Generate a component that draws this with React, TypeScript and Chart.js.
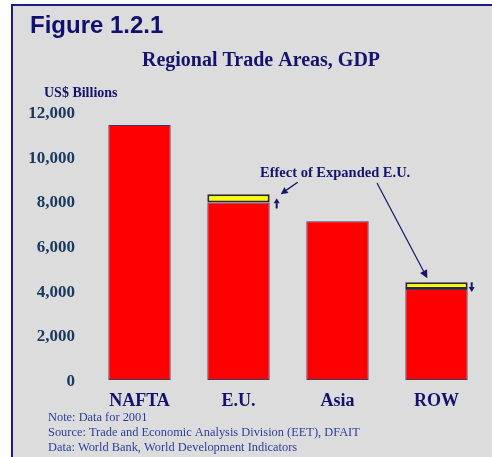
import React, { useEffect, useRef } from 'react';
import { Chart, registerables } from 'chart.js';

Chart.register(...registerables);

const categories = ['NAFTA', 'E.U.', 'Asia', 'ROW'];
const gdpBase = [11420, 7950, 7110, 4080];
const expandedEffect: (number | null)[] = [null, 370, null, 295];
const yMax = 12000;
const yStep = 2000;
const figureLabel = 'Figure 1.2.1';
const chartTitle = 'Regional Trade Areas, GDP';
const unitLabel = 'US$ Billions';
const annotationText = 'Effect of Expanded E.U.';
const notes = [
  'Note: Data for 2001',
  'Source: Trade and Economic Analysis Division (EET), DFAIT',
  'Data: World Bank, World Development Indicators',
];

const SERIF = '"Liberation Serif", "Times New Roman", serif';
const SANS = '"Liberation Sans", Arial, sans-serif';
const NAVY = '#14146e';

function arrow(ctx: CanvasRenderingContext2D, x1: number, y1: number, x2: number, y2: number, len: number, half: number, lw: number) {
  const a = Math.atan2(y2 - y1, x2 - x1);
  const bx = x2 - len * Math.cos(a);
  const by = y2 - len * Math.sin(a);
  ctx.beginPath();
  ctx.lineWidth = lw;
  ctx.moveTo(x1, y1);
  ctx.lineTo(bx, by);
  ctx.stroke();
  ctx.beginPath();
  ctx.moveTo(x2, y2);
  ctx.lineTo(bx + half * Math.sin(a), by - half * Math.cos(a));
  ctx.lineTo(bx - half * Math.sin(a), by + half * Math.cos(a));
  ctx.closePath();
  ctx.fill();
}

const framePlugin = {
  id: 'frame',
  beforeDraw(chart: any) {
    const ctx = chart.ctx as CanvasRenderingContext2D;
    const w = chart.width, h = chart.height;
    ctx.save();
    ctx.fillStyle = '#ffffff';
    ctx.fillRect(0, 0, w, h);
    ctx.fillStyle = '#dcdcdc';
    ctx.fillRect(13, 6, w - 13, h - 6);
    ctx.fillStyle = '#1c1c8c';
    ctx.fillRect(11, 4, 2, h - 4);
    ctx.fillRect(11, 4, w - 11, 2);

    ctx.textBaseline = 'alphabetic';
    ctx.fillStyle = '#10106e';
    ctx.font = `bold 24px ${SANS}`;
    ctx.textAlign = 'left';
    ctx.fillText(figureLabel, 30, 33);

    ctx.fillStyle = NAVY;
    ctx.font = `bold 20px ${SERIF}`;
    ctx.textAlign = 'center';
    ctx.fillText(chartTitle, 261, 66);

    ctx.font = `bold 14px ${SERIF}`;
    ctx.textAlign = 'left';
    ctx.fillText(unitLabel, 44, 97);

    ctx.fillStyle = '#2b3f9a';
    ctx.font = `12.4px ${SERIF}`;
    notes.forEach((n, i) => ctx.fillText(n, 48, 421 + i * 15));
    ctx.restore();
  },
  afterDatasetsDraw(chart: any) {
    const ctx = chart.ctx as CanvasRenderingContext2D;
    const red = chart.getDatasetMeta(0).data;
    const yel = chart.getDatasetMeta(1).data;
    const eu = yel[1], row = yel[3];
    const euRight = eu.x + eu.width / 2;
    const rowLeft = row.x - row.width / 2;
    const rowRight = row.x + row.width / 2;
    ctx.save();
    ctx.fillStyle = NAVY;
    ctx.strokeStyle = NAVY;
    ctx.font = `bold 14.5px ${SERIF}`;
    ctx.textAlign = 'left';
    ctx.textBaseline = 'alphabetic';
    ctx.fillText(annotationText, 260, 177);
    arrow(ctx, euRight + 28, eu.y - 12, euRight + 11, eu.y, 7, 3.5, 1.3);
    arrow(ctx, euRight + 7, red[1].y + 6, euRight + 7, eu.y + 4, 5, 3, 2);
    arrow(ctx, 377, 183, rowLeft + 22, row.y - 4, 8, 4, 1.2);
    arrow(ctx, rowRight + 4, row.y, rowRight + 4, red[3].y + 3, 5, 3, 2);
    ctx.restore();
  },
};

export default function App() {
  const ref = useRef<HTMLCanvasElement>(null);
  useEffect(() => {
    if (!ref.current) return;
    const chart = new Chart(ref.current, {
      type: 'bar',
      data: {
        labels: categories,
        datasets: [
          {
            data: gdpBase,
            backgroundColor: '#ff0000',
            borderColor: '#3a3a6a',
            borderWidth: 1,
            borderSkipped: false,
            barPercentage: 0.63,
            categoryPercentage: 1,
          },
          {
            data: expandedEffect,
            backgroundColor: '#ffff00',
            borderColor: '#2a2a2a',
            borderWidth: 2,
            borderSkipped: false,
            barPercentage: 0.63,
            categoryPercentage: 1,
          },
        ],
      },
      options: {
        responsive: false,
        animation: false,
        devicePixelRatio: 1,
        layout: { padding: { left: 10, right: 6, top: 112, bottom: 37 } },
        plugins: { legend: { display: false }, tooltip: { enabled: false }, title: { display: false } },
        scales: {
          x: {
            stacked: true,
            grid: { display: false, drawTicks: false },
            border: { display: false },
            ticks: { padding: 11, color: '#12126e', font: { family: SERIF, size: 18, weight: 'bold' } },
            afterFit: (s: any) => { s.height = 40; },
          },
          y: {
            stacked: true,
            min: 0,
            max: yMax,
            grid: { display: false, drawTicks: false },
            border: { display: false },
            ticks: {
              stepSize: yStep,
              padding: 15,
              labelOffset: 1.5,
              color: '#193a60',
              font: { family: SERIF, size: 17, weight: 'bold' },
              callback: (v: any) => Number(v).toLocaleString('en-US'),
            },
            afterFit: (s: any) => { s.width = 80; },
          },
        },
      },
      plugins: [framePlugin],
    });
    return () => chart.destroy();
  }, []);
  return (
    <div style={{ position: 'fixed', left: 0, top: 0, width: 492, height: 457 }}>
      <canvas ref={ref} width={492} height={457} style={{ display: 'block' }} />
    </div>
  );
}
